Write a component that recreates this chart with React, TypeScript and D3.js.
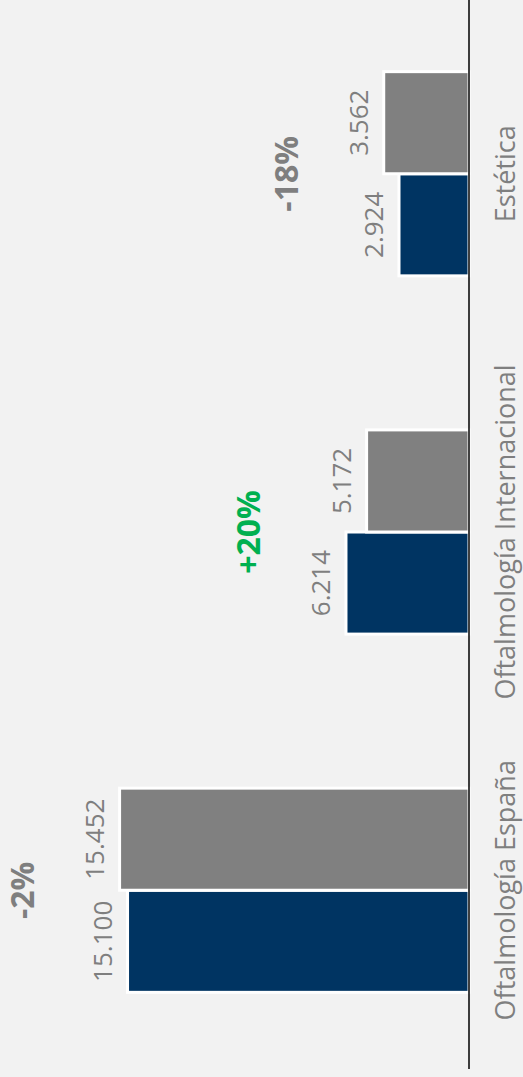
import React from "react";
import * as d3 from "d3";

// Data
const categories = ["Oftalmología España", "Oftalmología Internacional", "Estética"];
const seriesKeys = ["actual", "anterior"];
const actualValues = [15100, 6214, 2924];
const previousValues = [15452, 5172, 3562];
// each category group is drawn against its own value axis in the reference
const axisMaxima = [20740, 23690, 19590];

const PAGE_W = 523;
const PAGE_H = 1077;
// chart is laid out unrotated (width = page height), then rotated -90°
const CW = PAGE_H;
const BASE = 469;

const BLUE = "#003462";
const GRAY = "#808080";
const TEXT = "#7f7f7f";
const GREEN = "#00b050";
const FONT = "'Open Sans', 'Noto Sans', sans-serif";

export default function App() {
  const x = d3
    .scaleBand<string>()
    .domain(categories)
    .range([13, CW])
    .paddingInner(0.43)
    .paddingOuter(0.2);
  const xs = d3.scaleBand<string>().domain(seriesKeys).range([0, x.bandwidth()]);
  const yScales = axisMaxima.map((m) => d3.scaleLinear().domain([0, m]).range([BASE, 0]));
  const locale = d3.formatLocale({ decimal: ",", thousands: ".", grouping: [3], currency: ["", "€"] });
  const fmt = locale.format(",d");

  return (
    <svg
      width={PAGE_W}
      height={PAGE_H}
      style={{ position: "absolute", left: 0, top: 0, display: "block" }}
    >
      <rect width={PAGE_W} height={PAGE_H} fill="#f2f2f2" />
      <g transform={`translate(0,${PAGE_H}) rotate(-90)`}>
        {categories.map((cat, i) => {
          const y = yScales[i];
          const vals = [actualValues[i], previousValues[i]];
          const x0 = x(cat) as number;
          const change = Math.round(((actualValues[i] - previousValues[i]) / previousValues[i]) * 100);
          const pctText = (change > 0 ? "+" : "") + change + "%";
          const top = Math.min(y(vals[0]), y(vals[1]));
          return (
            <g key={cat}>
              {seriesKeys.map((k, j) => {
                const bx = x0 + (xs(k) as number);
                const by = y(vals[j]);
                return (
                  <g key={k}>
                    <rect
                      x={bx}
                      y={by}
                      width={xs.bandwidth()}
                      height={BASE - by}
                      fill={j === 0 ? BLUE : GRAY}
                      stroke="#ffffff"
                      strokeWidth={3}
                    />
                    <text
                      x={bx + xs.bandwidth() / 2}
                      y={by - 16}
                      textAnchor="middle"
                      fontFamily={FONT}
                      fontSize={26}
                      fill={TEXT}
                    >
                      {fmt(vals[j])}
                    </text>
                  </g>
                );
              })}
              <text
                x={x0 + x.bandwidth() / 2}
                y={top - 85.5}
                textAnchor="middle"
                fontFamily={FONT}
                fontSize={32}
                fontWeight="bold"
                fill={change > 0 ? GREEN : TEXT}
              >
                {pctText}
              </text>
              <text
                x={x0 + x.bandwidth() / 2}
                y={515}
                textAnchor="middle"
                fontFamily={FONT}
                fontSize={27}
                fill={TEXT}
              >
                {cat}
              </text>
            </g>
          );
        })}
        <line x1={8} x2={CW} y1={BASE} y2={BASE} stroke="#000" strokeWidth={1.5} />
      </g>
    </svg>
  );
}
